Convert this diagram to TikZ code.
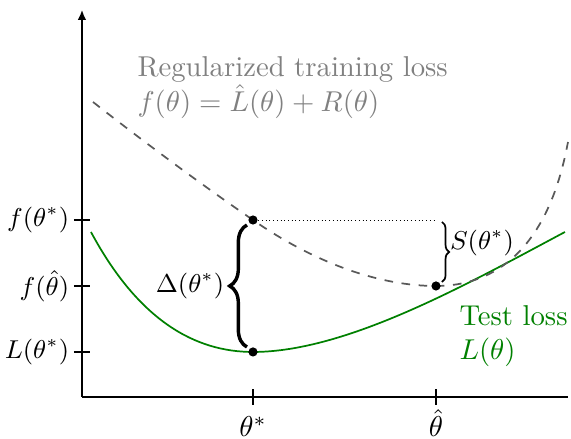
\documentclass[tikz,border=0pt]{standalone}
\usepackage{amsmath}
\usepackage{tikz}
\usetikzlibrary{positioning,arrows.meta,decorations.pathreplacing,calc}
\definecolor{testgreen}{RGB}{0,128,0}

\begin{document}
\begin{tikzpicture}[dot/.style={circle,fill=black,inner sep=0pt,minimum size=3.2pt},
  mark label/.style={font=\small}]
\useasboundingbox (-1.004,-0.514) rectangle (5.988,4.861);
% axes
\draw[semithick,-{Latex[length=3.5pt,width=3pt]}] (0,0) coordinate (o) -- (0,4.74) coordinate (ytop);
\draw[semithick] (o) -- (5.95,0) coordinate (xend);
% ticks and their labels
\foreach \y/\t [count=\i] in {2.167/f(\theta^*),1.359/f(\hat{\theta}),0.551/L(\theta^*)} {
  \draw[semithick] (-0.098,\y) -- (0.098,\y);
  \node[mark label,left,inner sep=1.5pt] (ly\i) at (-0.098,\y) {$\t$};
}
\foreach \x/\t [count=\i] in {2.094/\theta^*,4.335/\hat{\theta}} {
  \draw[semithick] (\x,-0.098) -- (\x,0.098);
  \node[anchor=base] (lx\i) at (\x,-0.49) {$\t$};
}
% test loss
\draw[semithick,testgreen] (0.110,2.020) .. controls (0.697,0.928) and (1.392,0.551) .. (2.094,0.551)
  .. controls (3.249,0.551) and (4.733,1.392) .. (5.914,2.020);
% regularized training loss
\draw[semithick,dashed,black!65] (0.135,3.612) .. controls (0.835,3.063) and (1.532,2.553) .. (2.094,2.167)
  .. controls (2.877,1.624) and (3.666,1.359) .. (4.335,1.359)
  .. controls (5.059,1.359) and (5.708,1.810) .. (5.951,3.122);
% points
\node[dot] (fstar) at (2.094,2.167) {};
\node[dot] (lstar) at (2.094,0.551) {};
\node[dot] (fhat) at (4.335,1.359) {};
\draw[line width=0.3pt,densely dotted] (fstar) -- (fstar -| fhat);
% braces
\draw[very thick,decorate,decoration={brace,amplitude=6pt}] (2.020,0.612) -- (2.020,2.106)
  node[mark label,midway,left=4pt] (delta) {$\Delta(\theta^*)$};
\draw[semithick,decorate,decoration={brace,amplitude=2.5pt}] (4.408,2.143) -- (4.408,1.408)
  node[mark label,midway,right=1.5pt,inner sep=1pt,yshift=3pt] (gap) {$S(\theta^*)$};
% labels
\node[align=left,text=black!50,anchor=north west,inner sep=0pt] (reg) at (0.673,4.17)
  {Regularized training loss\\$f(\theta)=\hat{L}(\theta)+R(\theta)$};
\node[align=left,text=testgreen,anchor=north west,inner sep=0pt] (test) at (4.616,1.13)
  {Test loss\\$L(\theta)$};
\end{tikzpicture}
\end{document}
